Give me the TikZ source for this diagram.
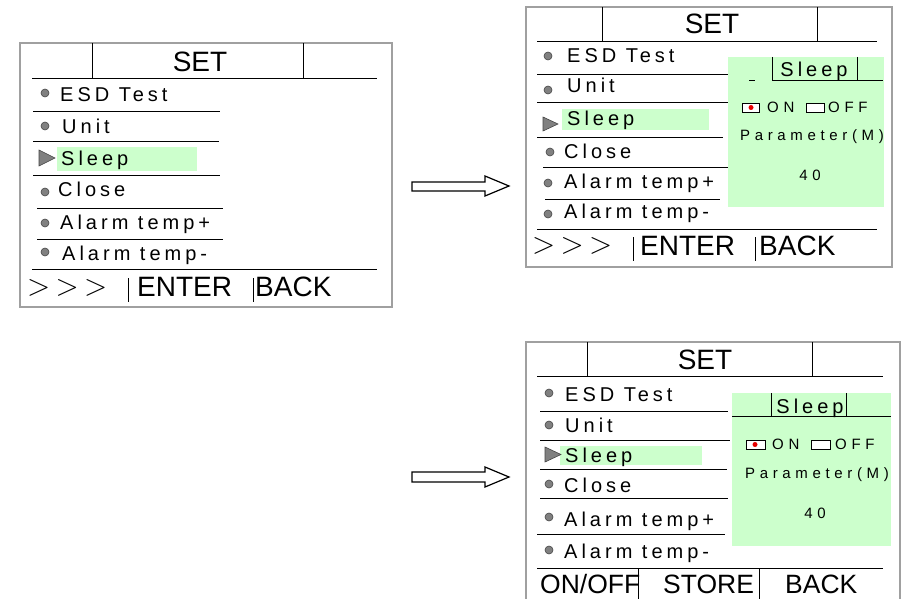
\documentclass[tikz,border=0pt]{standalone}
\usepackage{fontspec}
\setmainfont{Liberation Sans}
\newfontfamily\itemfont[LetterSpace=20]{Liberation Sans}
\newfontfamily\popfont[LetterSpace=31]{Liberation Sans}
\newcommand{\chevgl}{\scalebox{1.22}{$>$}}
\newcommand{\chevrow}{\chevgl\hspace{5.4pt}\chevgl\hspace{5.4pt}\chevgl}
\definecolor{hlgreen}{RGB}{204,255,204}
\definecolor{framegray}{RGB}{160,160,160}
\definecolor{dotgray}{RGB}{128,128,128}
\definecolor{dotdark}{RGB}{70,70,70}
\definecolor{dotred}{RGB}{230,0,0}
\begin{document}
\begin{tikzpicture}[x=1pt,y=-1pt,
  frame/.style={draw=framegray,line width=1.5pt},
  rule/.style={draw=black,line width=0.9pt},
  item/.style={anchor=base west,inner sep=0pt,font=\itemfont\fontsize{20}{20}\selectfont},
  popsleep/.style={anchor=base,inner sep=0pt,font=\itemfont\fontsize{20}{20}\selectfont},
  pop/.style={anchor=base,inner sep=0pt,font=\popfont\fontsize{15}{15}\selectfont},
  popw/.style={anchor=base west,inner sep=0pt,font=\popfont\fontsize{15}{15}\selectfont},
  title/.style={anchor=base,inner sep=0pt,font=\fontsize{28}{28}\selectfont},
  softkey/.style={anchor=base west,inner sep=0pt,font=\fontsize{28}{28}\selectfont},
  softkeyb/.style={anchor=base west,inner sep=0pt,font=\fontsize{26.5}{26.5}\selectfont},
  chev/.style={anchor=west,inner sep=0pt,font=\fontsize{24.88}{24.88}\selectfont},
  bullet/.style={circle,fill=dotgray,draw=dotdark,line width=0.6pt,minimum size=8pt,inner sep=0pt},
  marker/.style={fill=dotgray,draw=dotdark,line width=0.6pt},
  chk/.style={fill=white,draw=black,line width=0.9pt},
  bigarrow/.style={fill=white,draw=black,line width=1.2pt,line join=miter}
]
\useasboundingbox (0,0) rectangle (902,599);
\fill[white] (0,0) rectangle (902,599);

% ================= Panel 1 =================
\draw[frame] (20,43) rectangle (392,307);
\draw[rule] (92,43) -- (92,78) (303,43) -- (303,78);
\draw[rule] (32,78) -- (377,78);
\node[title] (p1set) at (200,71.7) {SET};
\fill[hlgreen] (57,147) rectangle (197,171);
\draw[rule] (33,111) -- (220,111) (33,141) -- (219,141) (33,175) -- (220,175)
            (37,208) -- (223,208) (37,239) -- (223,239) (32,269) -- (377,269);
\node[bullet] (p1b1) at (45,93) {};
\node[bullet] (p1b2) at (45,126) {};
\draw[marker] (39,150) -- (55,158) -- (39,166) -- cycle;
\node[bullet] (p1b4) at (45,192) {};
\node[bullet] (p1b5) at (45,223) {};
\node[bullet] (p1b6) at (45,252) {};
\node[item] (p1t1) at (60,101.7) {ESD Test};
\node[item] (p1t2) at (62,134) {Unit};
\node[item] (p1t3) at (61,165) {Sleep};
\node[item] (p1t4) at (58,196.7) {Close};
\node[item] (p1t5) at (60,229) {Alarm temp+};
\node[item] (p1t6) at (62,260) {Alarm temp-};
\node[chev] (p1chev) at (27,288) {\chevrow};
\draw[line width=0.8pt] (128,278) -- (128,302) (253,278) -- (253,302);
\node[softkey] (p1enter) at (137,296) {ENTER};
\node[softkey] (p1back) at (255,296) {BACK};

% ================= Arrows =================
\draw[bigarrow] (412,182) -- (485,182) -- (485,176) -- (509,186) -- (485,196) -- (485,191) -- (412,191) -- cycle;
\draw[bigarrow] (412,472) -- (485,472) -- (485,467) -- (509,477) -- (485,487) -- (485,482) -- (412,482) -- cycle;

% ================= Panel 2 =================
\draw[frame] (526,7) rectangle (892,267);
\draw[rule] (602,7) -- (602,41) (817,7) -- (817,41);
\draw[rule] (537,41) -- (877,41);
\node[title] (p2set) at (712,33.3) {SET};
\fill[hlgreen] (562,109) rectangle (709,130);
\draw[rule] (537,74) -- (728,74) (537,102) -- (728,102) (537,137) -- (723,137)
            (543,167) -- (728,167) (545,199) -- (720,199) (537,229) -- (877,229);
\node[bullet] (p2b1) at (548,56) {};
\node[bullet] (p2b2) at (548,90) {};
\draw[marker] (543,117) -- (558,124) -- (543,131) -- cycle;
\node[bullet] (p2b4) at (550,152) {};
\node[bullet] (p2b5) at (548,183) {};
\node[bullet] (p2b6) at (548,214) {};
\node[item] (p2t1) at (567,62.7) {ESD Test};
\node[item] (p2t2) at (567,93) {Unit};
\node[item] (p2t3) at (567,126) {Sleep};
\node[item] (p2t4) at (564,158) {Close};
\node[item] (p2t5) at (564,188) {Alarm temp+};
\node[item] (p2t6) at (564,218) {Alarm temp-};
% popup
\fill[hlgreen] (728,57) rectangle (884,207);
\draw[rule] (772,57) -- (772,80) (857,57) -- (857,80);
\draw[rule] (749,80) -- (755,80) (772,80) -- (883,80);
\node[popsleep] (p2ps) at (814,76.7) {Sleep};
\draw[chk] (742,103) rectangle (759,112);
\fill[dotred] (751,107.5) circle (2.5);
\node[popw] (p2on) at (767,112.7) {ON};
\draw[chk] (806,103) rectangle (824,112);
\node[popw] (p2off) at (828,112.7) {OFF};
\node[pop] (p2par) at (812,140.7) {Parameter(M)};
\node[pop] (p2val) at (810,180.7) {40};
\node[chev] (p2chev) at (532,246) {\chevrow};
\draw[line width=0.8pt] (633,237) -- (633,261) (755,237) -- (755,261);
\node[softkey] (p2enter) at (640,255) {ENTER};
\node[softkey] (p2back) at (759,255) {BACK};

% ================= Panel 3 =================
\draw[frame] (526,610) -- (526,342) -- (900,342) -- (900,610);
\draw[rule] (587,342) -- (587,376) (812,342) -- (812,376);
\draw[rule] (537,376) -- (883,376);
\node[title] (p3set) at (705,369) {SET};
\fill[hlgreen] (560,446) rectangle (702,465);
\draw[rule] (540,411) -- (728,411) (540,440) -- (730,440) (540,469) -- (727,469)
            (540,498) -- (728,498) (537,534) -- (725,534) (537,568) -- (883,568);
\node[bullet] (p3b1) at (549,393) {};
\node[bullet] (p3b2) at (549,425) {};
\draw[marker] (545,447) -- (561,454.5) -- (545,462) -- cycle;
\node[bullet] (p3b4) at (549,484) {};
\node[bullet] (p3b5) at (549,517) {};
\node[bullet] (p3b6) at (549,550) {};
\node[item] (p3t1) at (565,401.7) {ESD Test};
\node[item] (p3t2) at (565,432) {Unit};
\node[item] (p3t3) at (565,462) {Sleep};
\node[item] (p3t4) at (564,492) {Close};
\node[item] (p3t5) at (564,526) {Alarm temp+};
\node[item] (p3t6) at (564,558) {Alarm temp-};
% popup
\fill[hlgreen] (732,393) rectangle (891,546);
\draw[rule] (771,393) -- (771,416) (846,393) -- (846,416);
\draw[rule] (732,416) -- (891,416);
\node[popsleep] (p3ps) at (810,413.3) {Sleep};
\draw[chk] (746,440) rectangle (765,449);
\fill[dotred] (755,444.5) circle (2.5);
\node[popw] (p3on) at (772,449.3) {ON};
\draw[chk] (811,440.5) rectangle (830,449.5);
\node[popw] (p3off) at (835,449.3) {OFF};
\node[pop] (p3par) at (817,478.7) {Parameter(M)};
\node[pop] (p3val) at (815,518.3) {40};
\node[softkeyb] (p3onoff) at (540,593) {ON/OFF};
\node[softkeyb] (p3store) at (663,593) {STORE};
\node[softkeyb] (p3back) at (785,593) {BACK};
\draw[line width=0.8pt] (638,568) -- (638,610) (759,568) -- (759,610);
\end{tikzpicture}
\end{document}
